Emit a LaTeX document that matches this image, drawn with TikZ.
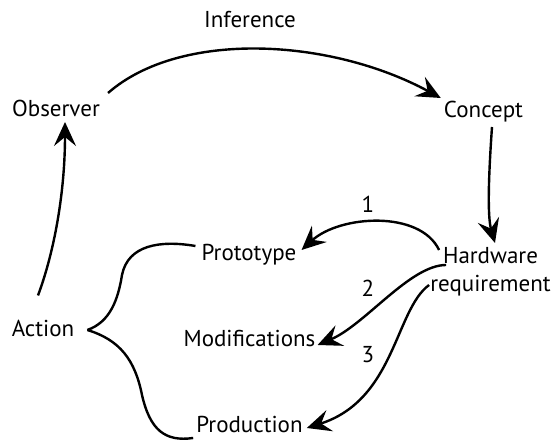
\documentclass[tikz,border=0pt]{standalone}
\usepackage{fontspec}
\setmainfont{PT Sans}
\usetikzlibrary{arrows.meta}
\tikzset{arr/.style={-{Stealth[length=12pt 0 0,width=11pt 0 0,inset=4.5pt 0 0]}}}
\tikzset{every node/.style={inner sep=0pt,font=\fontsize{11.5}{14}\selectfont}}

\begin{document}
\begin{tikzpicture}[x=0.5pt,y=-0.5pt,line width=1.2pt]
\useasboundingbox (0,0) rectangle (554,442);
\node[anchor=base] (inf) at (250,28) {Inference};
\node[anchor=base] (obs) at (56,117) {Observer};
\node[anchor=base] (con) at (483.5,118) {Concept};
\node[align=center,anchor=north] (hw) at (490.5,246) {Hardware\\requirement};
\node[anchor=base] (pro) at (249,261) {Prototype};
\node[anchor=base] (mod) at (249.5,347) {Modifications};
\node[anchor=base] (prd) at (249.5,433) {Production};
\node[anchor=base] (act) at (43,337) {Action};
\node[anchor=base] (n1) at (368,213) {1};
\node[anchor=base] (n2) at (368,297) {2};
\node[anchor=base] (n3) at (368,363) {3};
% main loop
\draw[arr] ([shift={(7,-24)}]obs.base east) .. controls (180,30) and (330,38) .. ([shift={(-2,-20)}]con.base west);
\draw[arr] ([shift={(8.5,9)}]con.base) .. controls (489,170) and (487,215) .. ([shift={(4.5,-3)}]hw.north);
\draw[arr] ([shift={(-5,-24)}]act.north) .. controls (55,250) and (65,190) .. ([shift={(9,5)}]obs.base);
% brace
\draw ([shift={(12,-7)}]act.base east) .. controls (110,322) and (118,300) .. (122,275) .. controls (128,245) and (160,240) .. ([shift={(-5,-15)}]pro.base west);
\draw ([shift={(12,-7)}]act.base east) .. controls (120,340) and (135,360) .. (142,395) .. controls (150,430) and (165,442) .. ([shift={(-2,5)}]prd.base west);
% branches
\draw[arr] ([shift={(10,4)}]hw.north west) .. controls (420,210) and (340,215) .. ([shift={(4,-11)}]pro.base east);
\draw[arr] ([shift={(17,19)}]hw.north west) .. controls (410,265) and (365,325) .. ([shift={(1,-2)}]mod.base east);
\draw[arr] ([shift={(0,39)}]hw.north west) .. controls (395,310) and (395,400) .. ([shift={(3,-5)}]prd.base east);
\end{tikzpicture}
\end{document}
